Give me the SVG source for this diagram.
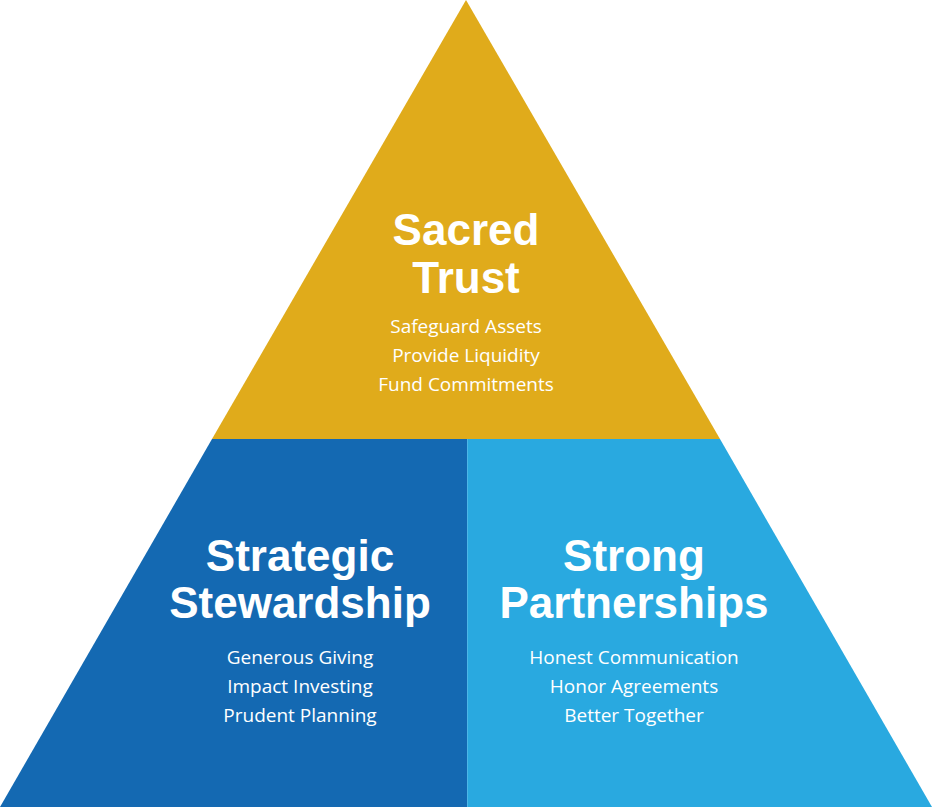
<svg xmlns="http://www.w3.org/2000/svg" width="932" height="807" viewBox="0 0 932 807">
  <style>
    .title { font-family: "Liberation Sans", Arial, sans-serif; font-weight: bold; font-size: 44px; fill: #ffffff; text-anchor: middle; }
    .sub { font-family: "Open Sans", "Liberation Sans", sans-serif; font-size: 19px; fill: #ffffff; text-anchor: middle; }
  </style>
  <rect width="932" height="807" fill="#ffffff"/>
  <g id="sacred-trust">
    <polygon points="466,0 720,439 212,439" fill="#E0AB1B"/>
    <text class="title" x="466" y="245">Sacred</text>
    <text class="title" x="466" y="293">Trust</text>
    <text class="sub" x="466" y="333">Safeguard Assets</text>
    <text class="sub" x="466" y="362">Provide Liquidity</text>
    <text class="sub" x="466" y="391">Fund Commitments</text>
  </g>
  <g id="strategic-stewardship">
    <polygon points="212,439 467,439 467,807 0,807" fill="#1469B2"/>
    <text class="title" x="300" y="571">Strategic</text>
    <text class="title" x="300" y="618">Stewardship</text>
    <text class="sub" x="300" y="664">Generous Giving</text>
    <text class="sub" x="300" y="693">Impact Investing</text>
    <text class="sub" x="300" y="722">Prudent Planning</text>
  </g>
  <g id="strong-partnerships">
    <polygon points="467,439 720,439 932,807 467,807" fill="#29A9E0"/>
    <text class="title" x="634" y="571">Strong</text>
    <text class="title" x="634" y="618">Partnerships</text>
    <text class="sub" x="634" y="664">Honest Communication</text>
    <text class="sub" x="634" y="693">Honor Agreements</text>
    <text class="sub" x="634" y="722">Better Together</text>
  </g>
  <g id="connectors">
    <line x1="467.5" y1="439" x2="467.5" y2="807" stroke="#4DB6E6" stroke-width="1"/>
  </g>
</svg>
